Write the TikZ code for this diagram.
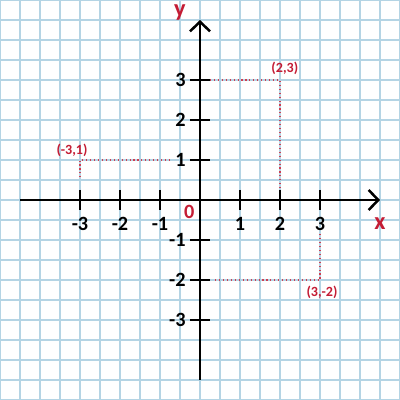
\documentclass[tikz,border=0pt]{standalone}
\usepackage{fontspec}
\setmainfont{Carlito}
\usetikzlibrary{arrows.meta}
\definecolor{gridblue}{RGB}{180,212,228}
\definecolor{ptred}{RGB}{196,28,52}
\tikzset{
  axisline/.style={-{Straight Barb[length=2.4mm, width=5mm, line width=1.8pt]}, line width=1.7pt},
  tickmark/.style={line width=1.3pt},
  ticklabel/.style={font=\Large\bfseries, inner sep=1pt},
  axislabel/.style={font=\LARGE\bfseries, text=ptred, inner sep=1pt},
  ptlabel/.style={font=\normalsize\bfseries, text=ptred, inner sep=1pt},
  guide/.style={dotted, draw=ptred!85, line width=0.8pt}
}

\begin{document}
\begin{tikzpicture}
  \useasboundingbox (-5,-5) rectangle (5,5);
  \fill[white] (-5,-5) rectangle (5,5);
  \draw[gridblue, line width=0.8pt, step=0.5] (-5,-5) grid (5,5);

  % axes
  \coordinate (xl) at (-4.5,0);
  \coordinate (xr) at (4.5,0);
  \coordinate (yb) at (0,-4.5);
  \coordinate (yt) at (0,4.5);
  \draw[axisline] (xl) -- (xr);
  \draw[axisline] (yb) -- (yt);
  \node[axislabel] (xlab) at (4.5,-0.6) {x};
  \node[axislabel] (ylab) at (-0.5,4.68) {y};
  \node[ticklabel, text=ptred] (orig) at (-0.27,-0.3) {0};

  % ticks
  \foreach \v in {-3,-2,-1,1,2,3} {
    \draw[tickmark] (\v,0.25) -- (\v,-0.25);
    \node[ticklabel] (xt\v) at (\v,-0.6) {\v};
    \draw[tickmark] (-0.25,\v) -- (0.25,\v);
    \node[ticklabel, anchor=east] (yt\v) at (-0.32,\v) {\v};
  }

  % points
  \coordinate (pa) at (2,3);
  \coordinate (pb) at (-3,1);
  \coordinate (pc) at (3,-2);
  \coordinate (pax) at (2,0.25);
  \coordinate (pay) at (0.25,3);
  \coordinate (pbx) at (-3,0.5);
  \coordinate (pby) at (-0.75,1);
  \coordinate (pcx) at (3,-0.8);
  \coordinate (pcy) at (0.38,-2);
  \draw[guide] (pay) -- (pa) -- (pax);
  \draw[guide] (pby) -- (pb) -- (pbx);
  \draw[guide] (pcy) -- (pc) -- (pcx);
  \node[ptlabel] (la) at (2.12,3.3) {(2,3)};
  \node[ptlabel] (lb) at (-3.2,1.25) {(-3,1)};
  \node[ptlabel] (lc) at (3.05,-2.3) {(3,-2)};
\end{tikzpicture}
\end{document}
